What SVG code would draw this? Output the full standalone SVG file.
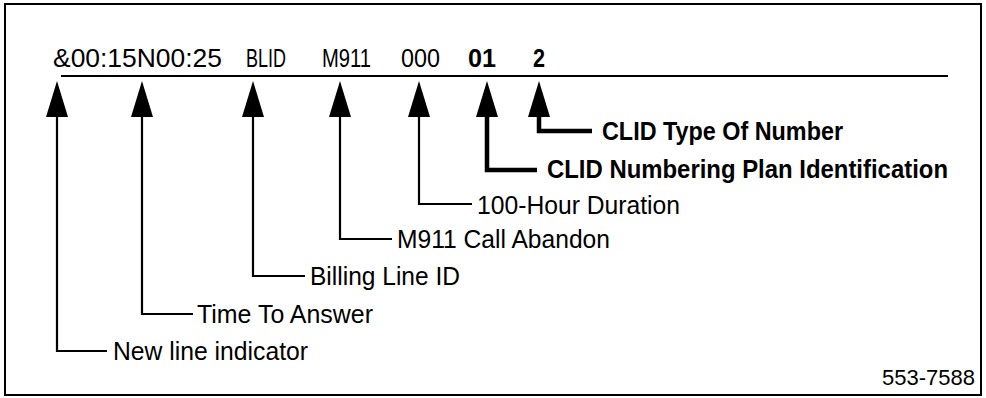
<svg xmlns="http://www.w3.org/2000/svg" width="986" height="398" viewBox="0 0 986 398">
<style>
.t{font-family:"Liberation Sans",Arial,sans-serif;font-size:25px;fill:#000}
.b{font-weight:bold}
.thin{fill:none;stroke:#000;stroke-width:2.2;stroke-linejoin:miter;stroke-linecap:butt;marker-end:url(#ah)}
.bold{fill:none;stroke:#000;stroke-width:4.5;stroke-linejoin:miter;stroke-linecap:butt;marker-end:url(#ah)}
</style>
<defs>
<marker id="ah" viewBox="0 -12 40 24" refX="0" refY="0" markerWidth="40" markerHeight="24" markerUnits="userSpaceOnUse" orient="auto">
<path d="M0,-11 L36,0 L0,11 Z" fill="#000"/>
</marker>
</defs>
<rect x="5" y="4" width="976" height="391" fill="#fff" stroke="#000" stroke-width="2"/>
<g id="record">
<text class="t" x="53" y="67" textLength="169" lengthAdjust="spacingAndGlyphs">&amp;00:15N00:25</text>
<text class="t" x="246" y="67" textLength="40" lengthAdjust="spacingAndGlyphs">BLID</text>
<text class="t" x="322" y="67" textLength="49" lengthAdjust="spacingAndGlyphs">M911</text>
<text class="t" x="401" y="67" textLength="39" lengthAdjust="spacingAndGlyphs">000</text>
<text class="t b" x="468" y="67" textLength="28" lengthAdjust="spacingAndGlyphs">01</text>
<text class="t b" x="533" y="67" textLength="12" lengthAdjust="spacingAndGlyphs">2</text>
<line x1="61" y1="76" x2="948" y2="76" stroke="#000" stroke-width="2.2"/>
</g>
<g id="connectors">
<path class="thin" d="M107,351 H57 V117"/>
<path class="thin" d="M193,314 H142 V117"/>
<path class="thin" d="M305,276 H253 V117"/>
<path class="thin" d="M392,239 H340 V117"/>
<path class="thin" d="M472,204 H419 V117"/>
<path class="bold" d="M537,170 H487 V117"/>
<path class="bold" d="M592,131 H539 V117"/>
</g>
<g id="label-new-line"><text class="t" x="113" y="360" textLength="195" lengthAdjust="spacingAndGlyphs">New line indicator</text></g>
<g id="label-time-to-answer"><text class="t" x="197" y="323" textLength="176" lengthAdjust="spacingAndGlyphs">Time To Answer</text></g>
<g id="label-billing"><text class="t" x="310" y="285" textLength="150" lengthAdjust="spacingAndGlyphs">Billing Line ID</text></g>
<g id="label-m911"><text class="t" x="397" y="248" textLength="213" lengthAdjust="spacingAndGlyphs">M911 Call Abandon</text></g>
<g id="label-duration"><text class="t" x="477" y="214" textLength="203" lengthAdjust="spacingAndGlyphs">100-Hour Duration</text></g>
<g id="label-clid-npi"><text class="t b" x="547" y="178" textLength="401" lengthAdjust="spacingAndGlyphs">CLID Numbering Plan Identification</text></g>
<g id="label-clid-ton"><text class="t b" x="602" y="140" textLength="241" lengthAdjust="spacingAndGlyphs">CLID Type Of Number</text></g>
<text x="882" y="385" style="font-family:'Liberation Sans',Arial,sans-serif;font-size:22px" textLength="93" lengthAdjust="spacingAndGlyphs">553-7588</text>
</svg>
